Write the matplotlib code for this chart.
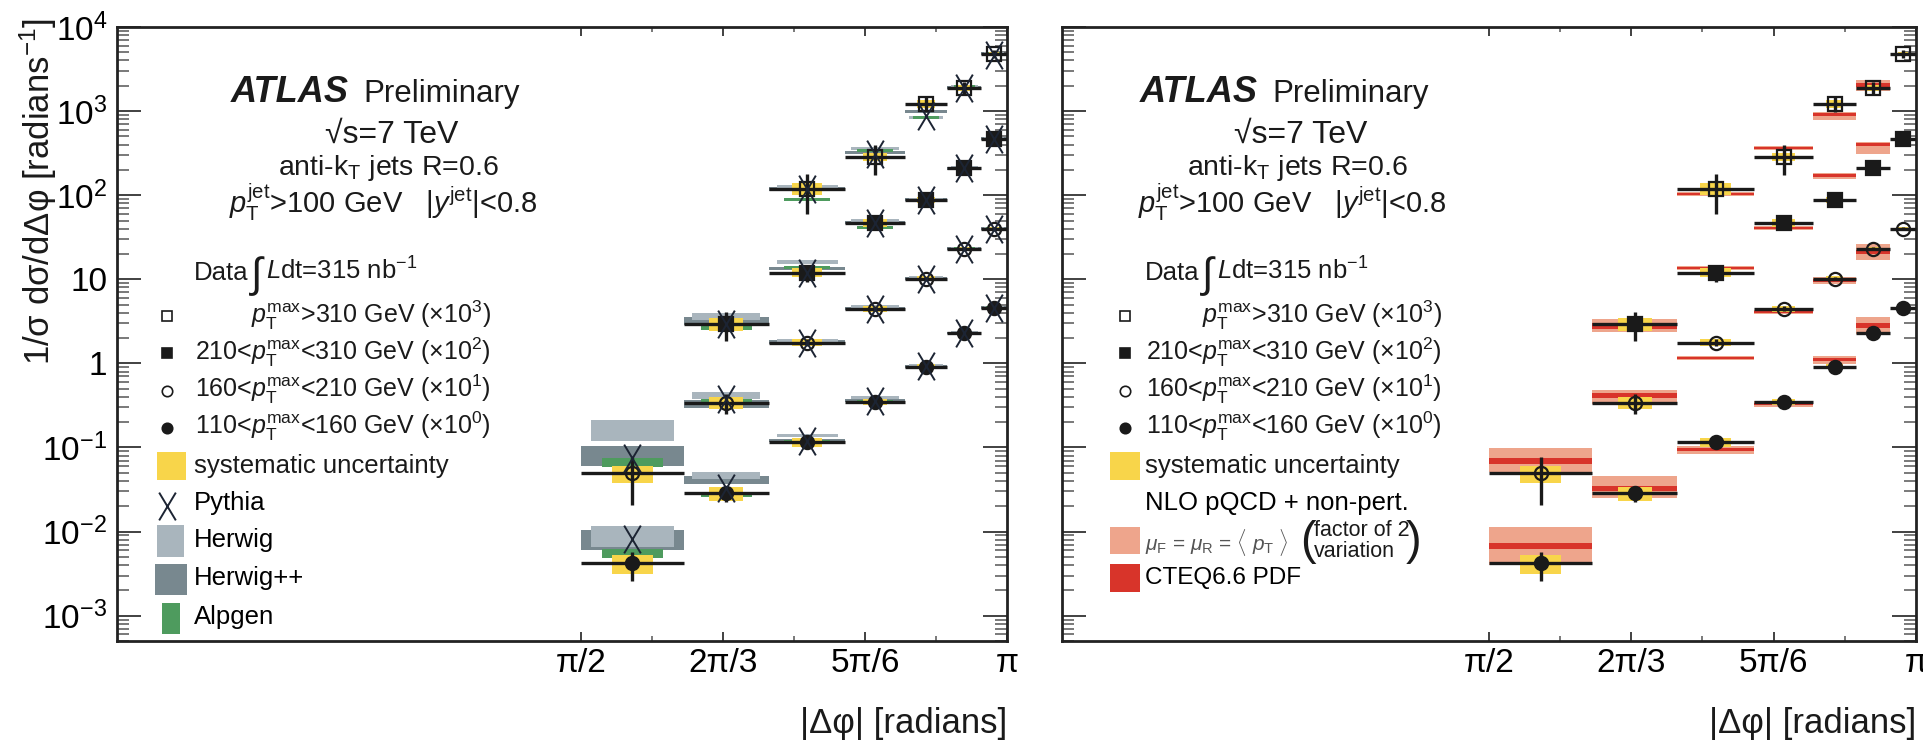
import numpy as np
import matplotlib
matplotlib.use("Agg")
import matplotlib.pyplot as plt
from matplotlib.path import Path
from matplotlib.patches import Rectangle
from matplotlib.ticker import FixedLocator, FixedFormatter, LogLocator, NullFormatter

plt.rcParams['font.family'] = ['Liberation Sans', 'DejaVu Sans']
plt.rcParams['mathtext.fontset'] = 'custom'
plt.rcParams['mathtext.rm'] = 'Liberation Sans'
plt.rcParams['mathtext.it'] = 'Liberation Sans:italic'
plt.rcParams['mathtext.bf'] = 'Liberation Sans:bold'

nan = np.nan
PI = np.pi

# ---------------- data ----------------
dphi_edges = [PI / 2, 1.950, 2.264, 2.545, 2.764, 2.922, 3.047, PI]
xtick_pos = [PI / 2, 2 * PI / 3, 5 * PI / 6, PI]
xtick_labels = ["π/2", "2π/3", "5π/6", "π"]
xminor_pos = [7 * PI / 12, 3 * PI / 4, 11 * PI / 12]
ytick_pos = [1e-3, 1e-2, 1e-1, 1, 10, 1e2, 1e3, 1e4]
ytick_labels = [r"$10^{-3}$", r"$10^{-2}$", r"$10^{-1}$", "1", "10",
                r"$10^{2}$", r"$10^{3}$", r"$10^{4}$"]

series_scale = [1e3, 1e2, 1e1, 1e0]
series_labels = [r"$p_{\rm T}^{\rm max}$>310 GeV (×10$^{3}$)",
                 r"210<$p_{\rm T}^{\rm max}$<310 GeV (×10$^{2}$)",
                 r"160<$p_{\rm T}^{\rm max}$<210 GeV (×10$^{1}$)",
                 r"110<$p_{\rm T}^{\rm max}$<160 GeV (×10$^{0}$)"]
series_markers = ["s", "s", "o", "o"]
series_filled = [False, True, False, True]

# measured 1/sigma dsigma/dDphi (unscaled)
data_A = [nan, nan, 0.119, 0.286, 1.22, 1.89, 4.78]
data_B = [nan, 0.0297, 0.120, 0.470, 0.882, 2.11, 4.68]
data_C = [0.00491, 0.0342, 0.177, 0.448, 1.02, 2.31, 3.99]
data_D = [0.00419, 0.0284, 0.115, 0.352, 0.917, 2.32, 4.60]
# relative statistical uncertainty
stat_A = [nan, nan, 0.50, 0.39, 0.20, 0.17, 0.10]
stat_B = [nan, 0.38, 0.22, 0.08, 0.06, 0.05, 0.05]
stat_C = [0.58, 0.27, 0.10, 0.06, 0.05, 0.04, 0.04]
stat_D = [0.38, 0.20, 0.08, 0.05, 0.04, 0.04, 0.04]
# relative systematic uncertainty
syst_A = [nan, nan, 0.16, 0.12, 0.10, 0.08, 0.06]
syst_B = [nan, 0.18, 0.12, 0.10, 0.08, 0.06, 0.05]
syst_C = [0.22, 0.16, 0.10, 0.08, 0.07, 0.06, 0.05]
syst_D = [0.25, 0.18, 0.12, 0.08, 0.07, 0.06, 0.05]

# MC predictions (unscaled)
pythia_A = [nan, nan, 0.119, 0.310, 0.877, 1.89, 4.70]
pythia_B = [nan, 0.0297, 0.120, 0.470, 0.880, 2.10, 4.60]
pythia_C = [0.0076, 0.0382, 0.177, 0.448, 1.02, 2.31, 3.99]
pythia_D = [0.00807, 0.0326, 0.121, 0.361, 0.920, 2.30, 4.55]
herwig_A = [nan, nan, 0.126, 0.356, 0.830, 1.94, 4.80]
herwig_B = [nan, 0.0360, 0.162, 0.497, 0.900, 2.15, 4.70]
herwig_C = [0.0168, 0.0415, 0.187, 0.473, 1.05, 2.35, 4.00]
herwig_D = [0.00901, 0.0465, 0.139, 0.393, 0.950, 2.35, 4.60]
herwigpp_A = [nan, nan, 0.119, 0.319, 1.00, 1.90, 4.80]
herwigpp_B = [nan, 0.0322, 0.134, 0.470, 0.880, 2.10, 4.70]
herwigpp_C = [0.00826, 0.0333, 0.180, 0.450, 1.02, 2.30, 4.00]
herwigpp_D = [0.00830, 0.0417, 0.121, 0.361, 0.930, 2.30, 4.60]
alpgen_A = [nan, nan, 0.0882, 0.337, 0.830, 1.99, 4.80]
alpgen_B = [nan, 0.0266, 0.137, 0.410, 0.860, 2.10, 4.70]
alpgen_C = [0.00664, 0.0352, 0.175, 0.440, 1.00, 2.30, 4.00]
alpgen_D = [0.00551, 0.0277, 0.118, 0.352, 0.900, 2.28, 4.60]
# relative MC statistical uncertainty per bin
herwig_unc = [0.28, 0.09, 0.05, 0.04, 0.04, 0.04, 0.04]
herwigpp_unc = [0.27, 0.11, 0.05, 0.04, 0.04, 0.04, 0.04]
alpgen_unc = [0.12, 0.07, 0.04, 0.04, 0.04, 0.04, 0.04]

# NLO pQCD + non-pert. (unscaled), scale variation and PDF relative uncertainties
nlo_A = [nan, nan, 0.104, 0.366, 0.901, 2.05, nan]
nlo_B = [nan, 0.0281, 0.137, 0.410, 1.70, 3.97, nan]
nlo_C = [0.00692, 0.0421, 0.117, 0.412, 0.975, 2.13, nan]
nlo_D = [0.00676, 0.0330, 0.0946, 0.329, 1.11, 2.85, nan]
scale_up_A = [nan, nan, 0.06, 0.06, 0.09, 0.15, nan]
scale_dn_A = [nan, nan, 0.06, 0.06, 0.13, 0.15, nan]
scale_up_B = [nan, 0.21, 0.06, 0.06, 0.09, 0.09, nan]
scale_dn_B = [nan, 0.17, 0.06, 0.06, 0.09, 0.22, nan]
scale_up_C = [0.41, 0.16, 0.06, 0.06, 0.10, 0.25, nan]
scale_dn_C = [0.27, 0.21, 0.06, 0.06, 0.10, 0.20, nan]
scale_up_D = [0.66, 0.37, 0.11, 0.08, 0.11, 0.26, nan]
scale_dn_D = [0.40, 0.23, 0.11, 0.08, 0.11, 0.21, nan]
pdf_A = [nan, nan, 0.03, 0.03, 0.04, 0.05, nan]
pdf_B = [nan, 0.08, 0.03, 0.03, 0.04, 0.04, nan]
pdf_C = [0.07, 0.07, 0.03, 0.03, 0.04, 0.06, nan]
pdf_D = [0.07, 0.07, 0.05, 0.04, 0.05, 0.07, nan]

# ---------------- style ----------------
C_YELLOW = "#f8d54a"
C_HERWIG = "#a9b5bd"
C_HERWIGPP = "#78888f"
C_ALPGEN = "#4e9b5e"
C_SALMON = "#eea58c"
C_RED = "#d8342a"
C_BLACK = "#1a1a1a"
C_PYTHIA = "#1c2433"

edges = np.array(dphi_edges)
centers = 0.5 * (edges[:-1] + edges[1:])
widths = edges[1:] - edges[:-1]

data_all = [data_A, data_B, data_C, data_D]
stat_all = [stat_A, stat_B, stat_C, stat_D]
syst_all = [syst_A, syst_B, syst_C, syst_D]
pythia_all = [pythia_A, pythia_B, pythia_C, pythia_D]
herwig_all = [herwig_A, herwig_B, herwig_C, herwig_D]
herwigpp_all = [herwigpp_A, herwigpp_B, herwigpp_C, herwigpp_D]
alpgen_all = [alpgen_A, alpgen_B, alpgen_C, alpgen_D]
nlo_all = [nlo_A, nlo_B, nlo_C, nlo_D]
sup_all = [scale_up_A, scale_up_B, scale_up_C, scale_up_D]
sdn_all = [scale_dn_A, scale_dn_B, scale_dn_C, scale_dn_D]
pdf_all = [pdf_A, pdf_B, pdf_C, pdf_D]

xpath = Path([(-0.3, -0.5), (0.3, 0.5), (0.3, -0.5), (-0.3, 0.5)],
             [Path.MOVETO, Path.LINETO, Path.MOVETO, Path.LINETO])

W, H = 1924, 744
fig = plt.figure(figsize=(W / 100, H / 100), dpi=100)
fig.patch.set_facecolor("white")
L_LEFT, L_RIGHT = 117, 1007
R_LEFT, R_RIGHT = 1062, 1916
AX_TOP, AX_BOT = 27, 641
ax_l = fig.add_axes([L_LEFT / W, 1 - AX_BOT / H, (L_RIGHT - L_LEFT) / W, (AX_BOT - AX_TOP) / H])
ax_r = fig.add_axes([R_LEFT / W, 1 - AX_BOT / H, (R_RIGHT - R_LEFT) / W, (AX_BOT - AX_TOP) / H])


def band(ax, vals, lo_rel, hi_rel, frac, color, z):
    v = np.array(vals, dtype=float)
    lo = v * (1 - np.array(lo_rel, dtype=float))
    hi = v * (1 + np.array(hi_rel, dtype=float))
    m = ~np.isnan(v)
    ax.bar(centers[m], (hi - lo)[m], bottom=lo[m], width=widths[m] * frac,
           color=color, linewidth=0, zorder=z)


def draw_data(ax):
    for i in range(4):
        v = np.array(data_all[i]) * series_scale[i]
        st = np.array(stat_all[i])
        sy = np.array(syst_all[i])
        m = ~np.isnan(v)
        ax.bar(centers[m], (2 * sy * v)[m], bottom=(v * (1 - sy))[m],
               width=widths[m] * 0.4, color=C_YELLOW, linewidth=0, zorder=4)
        ax.errorbar(centers[m], v[m], xerr=(widths / 2)[m],
                    yerr=[(st * v)[m], (st * v)[m]], fmt="none",
                    ecolor=C_BLACK, elinewidth=2.4, capsize=0, zorder=5)
        ax.plot(centers[m], v[m], linestyle="none", marker=series_markers[i],
                ms=9.5, mec=C_BLACK, mew=1.6,
                mfc=C_BLACK if series_filled[i] else "none", zorder=6)


def style_axes(ax, xmin, show_ylabels):
    ax.set_xlim(xmin, PI)
    ax.set_yscale("log")
    ax.set_ylim(5e-4, 1e4)
    ax.xaxis.set_major_locator(FixedLocator(xtick_pos))
    ax.xaxis.set_major_formatter(FixedFormatter(xtick_labels))
    ax.xaxis.set_minor_locator(FixedLocator(xminor_pos))
    ax.yaxis.set_major_locator(FixedLocator(ytick_pos))
    if show_ylabels:
        ax.yaxis.set_major_formatter(FixedFormatter(ytick_labels))
    else:
        ax.yaxis.set_major_formatter(NullFormatter())
    ax.yaxis.set_minor_locator(LogLocator(base=10, subs=np.arange(2, 10), numticks=30))
    ax.yaxis.set_minor_formatter(NullFormatter())
    ax.tick_params(axis="y", which="major", direction="in", length=17, width=1.3,
                   left=True, right=True, labelsize=24, pad=7, color="#333333")
    ax.tick_params(axis="y", which="minor", direction="in", length=8.5, width=1.1,
                   left=True, right=True, color="#555555")
    ax.tick_params(axis="x", which="major", direction="in", length=6.5, width=1.3,
                   top=True, bottom=True, labelsize=24, pad=5, color="#333333")
    ax.tick_params(axis="x", which="minor", direction="in", length=3.3, width=1.1,
                   top=True, bottom=True, color="#555555")
    for s in ax.spines.values():
        s.set_linewidth(2.0)
        s.set_color("#222222")


def header(ax, xl):
    t = ax.transAxes
    ax.text(xl["atlas"], 0.878, "ATLAS", transform=t, fontsize=26, fontweight="bold",
            fontstyle="italic", ha="left", va="baseline", color=C_BLACK)
    ax.text(xl["prelim"], 0.878, "Preliminary", transform=t, fontsize=22.5,
            ha="left", va="baseline", color=C_BLACK)
    ax.text(xl["sqrts"], 0.811, "√s=7 TeV", transform=t, fontsize=23,
            ha="center", va="baseline", color=C_BLACK)
    ax.text(xl["antikt"], 0.759, r"anti-k$_{\rm T}$ jets R=0.6", transform=t, fontsize=20.5,
            ha="center", va="baseline", color=C_BLACK)
    ax.text(xl["ptjet"], 0.697, r"$p_{\rm T}^{\rm jet}$>100 GeV   |$y^{\rm jet}$|<0.8",
            transform=t, fontsize=21, ha="center", va="baseline", color=C_BLACK)
    ax.text(xl["text"], 0.588, "Data", transform=t,
            fontsize=18.5, ha="left", va="baseline", color=C_BLACK)
    ax.text(xl["integral"], 0.577, "∫", transform=t,
            fontsize=30, ha="left", va="baseline", color=C_BLACK)
    ax.text(xl["lumi"], 0.588, r"$L$dt=315 nb$^{-1}$", transform=t,
            fontsize=18.5, ha="left", va="baseline", color=C_BLACK)
    row_base = [0.518, 0.458, 0.397, 0.337]
    row_mark = [0.529, 0.469, 0.407, 0.347]
    for i in range(4):
        ax.text(xl["rowend"], row_base[i], series_labels[i], transform=t, fontsize=18,
                ha="right", va="baseline", color=C_BLACK)
        ax.plot([xl["marker"]], [row_mark[i]], transform=t, linestyle="none",
                marker=series_markers[i], ms=7.5, mec=C_BLACK, mew=1.2,
                mfc=C_BLACK if series_filled[i] else "none", clip_on=False)
    ax.add_patch(Rectangle((xl["box0"], 0.262), xl["boxw"], 0.046, transform=t,
                           color=C_YELLOW, linewidth=0))
    ax.text(xl["text"], 0.285, "systematic uncertainty", transform=t, fontsize=18.5,
            ha="left", va="center", color=C_BLACK)


def frac_l(px):
    return (px - L_LEFT) / (L_RIGHT - L_LEFT)


def frac_r(px):
    return (px - R_LEFT) / (R_RIGHT - R_LEFT)


pos_l = dict(atlas=frac_l(231), prelim=frac_l(363), sqrts=frac_l(392), antikt=frac_l(388),
             ptjet=frac_l(383), text=frac_l(194), integral=frac_l(251), lumi=frac_l(266),
             rowend=frac_l(491), marker=frac_l(167),
             box0=frac_l(157), boxw=frac_l(186) - frac_l(157))
pos_r = dict(atlas=frac_r(1140), prelim=frac_r(1272), sqrts=frac_r(1301), antikt=frac_r(1297),
             ptjet=frac_r(1292), text=frac_r(1145), integral=frac_r(1202), lumi=frac_r(1217),
             rowend=frac_r(1442), marker=frac_r(1125),
             box0=frac_r(1110), boxw=frac_r(1140) - frac_r(1110))

xmin_left = PI / 2 - (581 - L_LEFT) / ((L_RIGHT - 581) / (PI / 2))

# ---------------- left panel: MC comparison ----------------
for i in range(4):
    sc = series_scale[i]
    band(ax_l, np.array(herwigpp_all[i]) * sc, herwigpp_unc, herwigpp_unc, 1.0, C_HERWIGPP, 1)
    band(ax_l, np.array(herwig_all[i]) * sc, herwig_unc, herwig_unc, 0.8, C_HERWIG, 2)
    band(ax_l, np.array(alpgen_all[i]) * sc, alpgen_unc, alpgen_unc, 0.6, C_ALPGEN, 3)
draw_data(ax_l)
for i in range(4):
    pv = np.array(pythia_all[i]) * series_scale[i]
    m = ~np.isnan(pv)
    ax_l.plot(centers[m], pv[m], linestyle="none", marker=xpath, ms=20,
              mec=C_PYTHIA, mew=1.4, zorder=7)
style_axes(ax_l, xmin_left, True)
header(ax_l, pos_l)
tl = ax_l.transAxes
ax_l.plot([frac_l(167)], [0.2199], transform=tl, linestyle="none", marker=xpath, ms=20,
          mec=C_PYTHIA, mew=1.4, clip_on=False)
ax_l.text(pos_l["text"], 0.2248, "Pythia", transform=tl, fontsize=18.5, ha="left", va="center")
ax_l.add_patch(Rectangle((frac_l(157), 0.137), frac_l(184) - frac_l(157), 0.052, transform=tl,
                         color=C_HERWIG, linewidth=0))
ax_l.text(pos_l["text"], 0.1645, "Herwig", transform=tl, fontsize=18.5, ha="left", va="center")
ax_l.add_patch(Rectangle((frac_l(155), 0.0749), frac_l(187) - frac_l(155), 0.0505, transform=tl,
                         color=C_HERWIGPP, linewidth=0))
ax_l.text(pos_l["text"], 0.1026, "Herwig++", transform=tl, fontsize=18.5, ha="left", va="center")
ax_l.add_patch(Rectangle((frac_l(162), 0.0114), frac_l(180) - frac_l(162), 0.0505, transform=tl,
                         color=C_ALPGEN, linewidth=0))
ax_l.text(pos_l["text"], 0.0391, "Alpgen", transform=tl, fontsize=18.5, ha="left", va="center")

# ---------------- right panel: NLO comparison ----------------
for i in range(4):
    sc = series_scale[i]
    nv = np.array(nlo_all[i]) * sc
    band(ax_r, nv, sdn_all[i], sup_all[i], 1.0, C_SALMON, 1)
    band(ax_r, nv, pdf_all[i], pdf_all[i], 1.0, C_RED, 2)
draw_data(ax_r)
style_axes(ax_r, 0.0, False)
header(ax_r, pos_r)
tr = ax_r.transAxes
ax_r.text(pos_r["text"], 0.2248, "NLO pQCD + non-pert.", transform=tr, fontsize=18.5,
          ha="left", va="center")
ax_r.add_patch(Rectangle((frac_r(1110), 0.1417), frac_r(1140) - frac_r(1110), 0.044, transform=tr,
                         color=C_SALMON, linewidth=0))
ax_r.text(pos_r["text"], 0.160,
          r"$\mu_{\rm F}$ = $\mu_{\rm R}$ = $\langle$ $p_{\rm T}$ $\rangle$",
          transform=tr, fontsize=15, ha="left", va="center", color="#555555")
ax_r.text(frac_r(1300), 0.162, "(", transform=tr, fontsize=34, ha="left", va="center",
          color=C_BLACK)
ax_r.text(frac_r(1314), 0.163, "factor of 2\nvariation", transform=tr, fontsize=15.5,
          ha="left", va="center", linespacing=1.0, color=C_BLACK)
ax_r.text(frac_r(1406), 0.162, ")", transform=tr, fontsize=34, ha="left", va="center",
          color=C_BLACK)
ax_r.add_patch(Rectangle((frac_r(1110), 0.0798), frac_r(1140) - frac_r(1110), 0.0456, transform=tr,
                         color=C_RED, linewidth=0))
ax_r.text(pos_r["text"], 0.1026, "CTEQ6.6 PDF", transform=tr, fontsize=17.5, ha="left", va="center")

# ---------------- axis titles ----------------
fig.text(38 / W, 1 - 18 / H, r"1/σ dσ/dΔφ [radians$^{-1}$]", rotation=90,
         fontsize=25, ha="center", va="top", color=C_BLACK)
fig.text(L_RIGHT / W, 1 - 733 / H, "|Δφ| [radians]", fontsize=25,
         ha="right", va="baseline", color=C_BLACK)
fig.text(R_RIGHT / W, 1 - 733 / H, "|Δφ| [radians]", fontsize=25,
         ha="right", va="baseline", color=C_BLACK)

fig.savefig("out.png", dpi=100, facecolor="white")
